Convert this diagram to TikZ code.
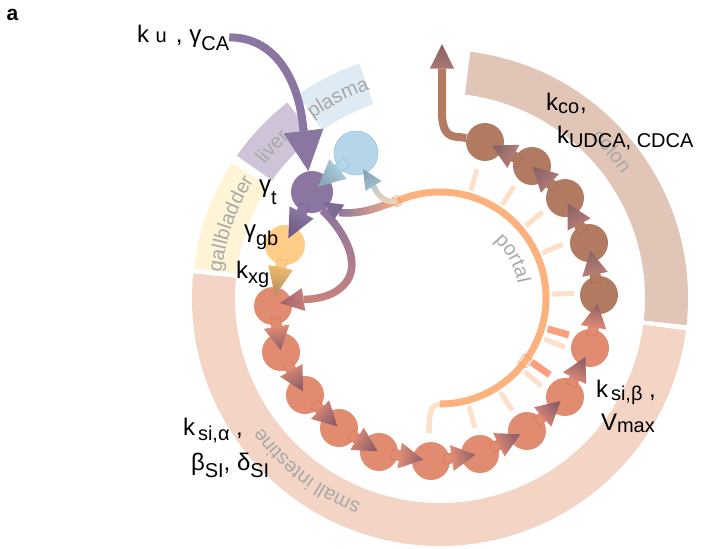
\documentclass[tikz,border=0pt]{standalone}
\usepackage{fontspec}
\setmainfont{Liberation Sans}
\usetikzlibrary{calc,arrows.meta,decorations.text,fadings}

\definecolor{bandSI}{HTML}{F3D4C5}
\definecolor{bandCO}{HTML}{E1C5B6}
\definecolor{bandGB}{HTML}{FFF4D5}
\definecolor{bandLV}{HTML}{CFC3D8}
\definecolor{bandPL}{HTML}{DEEBF5}
\definecolor{nSI}{HTML}{E18B70}
\definecolor{nCO}{HTML}{B27A61}
\definecolor{nLV}{HTML}{8B76A1}
\definecolor{nPL}{HTML}{B5D6E9}
\definecolor{plborder}{HTML}{9DC4DC}
\definecolor{nGB}{HTML}{FFCD87}
\definecolor{portalC}{HTML}{FDB27E}
\definecolor{stubL}{HTML}{FEDFC9}
\definecolor{stubS}{HTML}{FB9F7E}
\definecolor{labgray}{HTML}{A9A9A9}
\definecolor{baseSI}{HTML}{E68F75}
\definecolor{tipSI}{HTML}{8E5F69}
\definecolor{baseCO}{HTML}{BC8474}
\definecolor{tipCO}{HTML}{8B6369}
\definecolor{siedge}{HTML}{D9735B}
\definecolor{coedge}{HTML}{A06A55}
\definecolor{baseLV}{HTML}{8E7CA5}
\definecolor{tipLV}{HTML}{6D5B87}
\definecolor{lvedge}{HTML}{74628E}
\definecolor{baseGB}{HTML}{F2BC6C}
\definecolor{tipGB}{HTML}{B38D63}
\definecolor{gbedge}{HTML}{EDAE66}
\definecolor{basePL}{HTML}{B3D4E3}
\definecolor{tipPL}{HTML}{88A6B7}
\definecolor{pledge}{HTML}{96BDD5}
\definecolor{headPLV}{HTML}{7B6A93}
\definecolor{plpeach}{HTML}{FDD3B2}
\definecolor{plblue}{HTML}{B2CAD6}
\definecolor{basePP}{HTML}{A5C5D3}
\definecolor{tipPP}{HTML}{86A3B3}
\definecolor{lnpink}{HTML}{C9837C}
\definecolor{baseLN}{HTML}{C98079}
\definecolor{tipLN}{HTML}{9A626B}
\definecolor{coline}{HTML}{B37B62}
\definecolor{baseCX}{HTML}{A97672}
\definecolor{tipCX}{HTML}{8B6269}
\definecolor{notchC}{HTML}{F0955F}

\newcommand\mainsz{\fontsize{24}{28}\selectfont}
\newcommand\subsz{\fontsize{20}{24}\selectfont}
\newcommand\bandfont{\fontsize{20}{24}\selectfont}
\newcommand\lsub[2]{\raisebox{-#1pt}{\subsz #2}}

\tikzfading[name=leftopaque, left color=transparent!0, right color=transparent!100]
\tikzfading[name=topopaque, top color=transparent!0, bottom color=transparent!100]

\pgfdeclarelayer{back}
\pgfdeclarelayer{mid}
\pgfsetlayers{back,mid,main}

\newcommand\bandsector[3]{\fill[#1] (#2:205) arc[start angle=#2, end angle=#3, radius=205] -- (#3:248) arc[start angle=#3, end angle=#2, radius=248] -- cycle;}

\newcommand\shadehead[5]{%
  \pgfmathanglebetweenpoints{\pgfpointanchor{#1}{center}}{\pgfpointanchor{#2}{center}}%
  \pgfmathsetmacro\flowang{\pgfmathresult-90}%
  \shade[bottom color=#4, top color=#5, shading angle=\flowang]
    ($(#1)!#3!90:(#2)$) -- (#2) -- ($(#1)!#3!-90:(#2)$) -- cycle;%
}

\newcommand\flowarrow[9]{%
  \coordinate (fab) at ($(#1.center)!#4!(#2.center)$);
  \coordinate (fat) at ($(#1.center)!#5!(#2.center)$);
  \filldraw[#9] ($(#1.center)!#3!(#2.center)!5pt!90:(#2.center)$) -- ($(fab)!5pt!90:(#2.center)$) -- ($(fab)!5pt!-90:(#2.center)$) -- ($(#1.center)!#3!(#2.center)!5pt!-90:(#2.center)$) -- cycle;
  \shadehead{fab}{fat}{#6}{#7}{#8}%
}

\tikzset{
  lab/.style={anchor=base west, inner sep=0pt, outer sep=0pt, font=\mainsz},
  bandlab/.style={decorate, decoration={text along path, text align=center}},
  sinode/.style={circle, inner sep=0pt, minimum size=38pt, fill=nSI},
  conode/.style={circle, inner sep=0pt, minimum size=38pt, fill=nCO},
  lvnode/.style={circle, inner sep=0pt, minimum size=42pt, fill=nLV},
  plnode/.style={circle, inner sep=0pt, minimum size=44pt, fill=nPL, draw=plborder, line width=0.6pt},
  gbnode/.style={circle, inner sep=0pt, minimum size=40pt, fill=nGB},
  sirect/.style={fill=nSI, draw=siedge, line width=0.5pt},
  corect/.style={fill=nCO, draw=coedge, line width=0.5pt},
  lvrect/.style={fill=nLV, draw=lvedge, line width=0.5pt},
  gbrect/.style={fill=nGB, draw=gbedge, line width=0.5pt},
  plrect/.style={fill=nPL, draw=pledge, line width=0.5pt},
  stubl/.style={draw=stubL, line width=5pt},
  stubs/.style={draw=stubS, line width=7pt},
  notch/.style={draw=notchC, line width=0.5pt},
}

\begin{document}
\begin{tikzpicture}[x=1pt,y=-1pt]
\useasboundingbox (0,0) rectangle (702,549);
\coordinate (C) at (440,298);

\begin{pgfonlayer}{back}
\begin{scope}[shift={(C)}, y=1pt]
  \bandsector{bandSI}{174.3}{352.5}
  \bandsector{bandCO}{353.7}{443}
  \bandsector{bandGB}{147}{173.2}
  \bandsector{bandLV}{128}{145}
  \bandsector{bandPL}{109}{125}
  \path[bandlab, decoration={text={|\bandfont\color{labgray}|small intestine}}] (-95:220) arc[start angle=-95, end angle=-160, radius=220];
  \path[bandlab, decoration={text={|\bandfont\color{labgray}|colon}}] (70:220) arc[start angle=70, end angle=11, radius=220];
  \path[bandlab, decoration={text={|\bandfont\color{labgray}|gallbladder}}] (190:220) arc[start angle=190, end angle=131, radius=220];
  \path[bandlab, decoration={text={|\bandfont\color{labgray}|liver}}] (160:220) arc[start angle=160, end angle=116, radius=220];
  \path[bandlab, decoration={text={|\bandfont\color{labgray}|plasma}}] (140:220) arc[start angle=140, end angle=94, radius=220];
  \path[bandlab, decoration={text={|\bandfont\color{labgray}|portal}}] (60:79) arc[start angle=60, end angle=-3.2, radius=79];
  \foreach \a in {74,56.4,40,23.7,2,-21.5,-41,-57.3,-75} \draw[stubl] (\a:112) -- (\a:134);
  \foreach \a in {-16,-35} \draw[stubs] (\a:112) -- (\a:134);
  \draw[stubl, line width=5.5pt] (2,-106) .. controls (-8,-106) and (-11,-111) .. (-11,-135);
  \draw[draw=portalC, line width=7pt] (114:106) arc[start angle=114, end angle=-90, radius=106];
  \draw[notch, rotate=-36.5] (101,-5) rectangle (111,5);
  \draw[notch, rotate=114] (101,-3) rectangle (111,3);
  \coordinate (pstart) at (114:106);
\end{scope}
\end{pgfonlayer}

% label at the start of the uptake arrow
\node[lab] (kulab) at (137,42) {k {\subsz u}\hspace{9pt},\hspace{7pt}γ\lsub{8}{CA}};

% compartments
\node[lvnode] (liver) at (312,192) {};
\node[plnode] (plasma) at (356,153) {};
\node[gbnode] (gb) at (285,245) {};
\node[sinode] (n1) at (273,306) {};
\node[sinode] (n2) at (281,352) {};
\node[sinode] (n3) at (305,395) {};
\node[sinode] (n4) at (339,428) {};
\node[sinode] (n5) at (379,452) {};
\node[sinode] (n6) at (431,461) {};
\node[sinode] (n7) at (480,454) {};
\node[sinode] (n8) at (527,431) {};
\node[sinode] (n9) at (565,397) {};
\node[sinode] (n10) at (590,348) {};
\node[conode] (c1) at (599,295) {};
\node[conode] (c2) at (589,243) {};
\node[conode] (c3) at (565,198) {};
\node[conode] (c4) at (532,166) {};
\node[conode] (c5) at (485,142) {};

% head anchor points
\coordinate (kub) at (303.5,131);
\coordinate (kut) at (liver.100);
\coordinate (plb) at (339,212.5);
\coordinate (plt) at (323.5,202);
\coordinate (ppb) at (373.5,186);
\coordinate (ppt) at (363,169);
\coordinate (lnb) at (303.5,299.5);
\coordinate (lnt) at (280,303);
\coordinate (cxb) at (442,68.5);
\coordinate (cxt) at (442,44);

\begin{pgfonlayer}{mid}
  \draw[draw=nLV, line width=8pt] (kulab.east) .. controls (278,37) and (300,85) .. (kub);
  \draw[draw=portalC, line width=7.5pt] (pstart) .. controls (382,205) and (365,215) .. (plb);
  \draw[draw=nLV, line width=7.5pt, path fading=leftopaque] (pstart) .. controls (382,205) and (365,215) .. (plb);
  \draw[draw=plpeach, line width=5.5pt] (pstart) .. controls (386,203) and (378,197) .. (ppb);
  \draw[draw=plblue, line width=5.5pt, path fading=topopaque] (pstart) .. controls (386,203) and (378,197) .. (ppb);
  \draw[draw=lnpink, line width=7.5pt] (liver.-60) .. controls (345,232) and (360,262) .. (347,281) .. controls (337,295) and (320,299) .. (lnb);
  \draw[draw=nLV, line width=7.5pt, path fading=topopaque] (liver.-60) .. controls (345,232) and (360,262) .. (347,281) .. controls (337,295) and (320,299) .. (lnb);
  \draw[draw=coline, line width=8pt] (c5.168) -- (459,137) .. controls (447,137) and (442,130) .. (442,112) -- (cxb);
\end{pgfonlayer}

% arrowheads of connectors
\shadehead{kub}{kut}{20pt}{nLV}{nLV}
\shadehead{plb}{plt}{9.5pt}{headPLV}{headPLV}
\shadehead{ppb}{ppt}{9.5pt}{basePP}{tipPP}
\shadehead{lnb}{lnt}{11.5pt}{baseLN}{tipLN}
\shadehead{cxb}{cxt}{12pt}{baseCX}{tipCX}

% flows between compartments
\flowarrow{plasma}{liver}{13pt}{24pt}{51pt}{13pt}{basePL}{tipPL}{plrect}
\flowarrow{liver}{gb}{15pt}{23pt}{52pt}{13.5pt}{baseLV}{tipLV}{lvrect}
\flowarrow{gb}{n1}{15pt}{23pt}{52pt}{12.5pt}{baseGB}{tipGB}{gbrect}
\foreach \i/\j in {n1/n2,n2/n3,n3/n4,n4/n5,n5/n6,n6/n7,n7/n8,n8/n9,n9/n10,n10/c1}{
  \flowarrow{\i}{\j}{13pt}{21pt}{45pt}{13pt}{baseSI}{tipSI}{sirect}
}
\foreach \i/\j in {c1/c2,c2/c3,c3/c4,c4/c5}{
  \flowarrow{\i}{\j}{13pt}{21pt}{45pt}{13pt}{baseCO}{tipCO}{corect}
}

% parameter labels
\node[lab] (gtlab) at (259,192.5) {γ\lsub{12}{t}};
\node[lab] (gglab) at (244,237) {γ\lsub{8}{gb}};
\node[lab] (kxlab) at (236,278) {k\lsub{5.5}{xg}};
\node[lab] (kcolab) at (546,110) {k\lsub{3}{co}\kern1pt,};
\node[lab] (kudlab) at (557,143) {k\lsub{4}{UDCA, CDCA}};
\node[lab] (ksblab) at (596,397) {k\kern3pt\lsub{3}{si,β} ,};
\node[lab] (vmlab) at (601,430) {V\lsub{2}{max}};
\node[lab] (ksalab) at (183,435) {k\kern3pt\lsub{5}{si,α} ,};
\node[lab] (bdlab) at (191,470) {β\lsub{7}{SI}, δ\lsub{7}{SI}};
\node[lab, font=\bfseries\fontsize{21}{21}\selectfont] (alab) at (6.5,20.5) {a};
\end{tikzpicture}
\end{document}
